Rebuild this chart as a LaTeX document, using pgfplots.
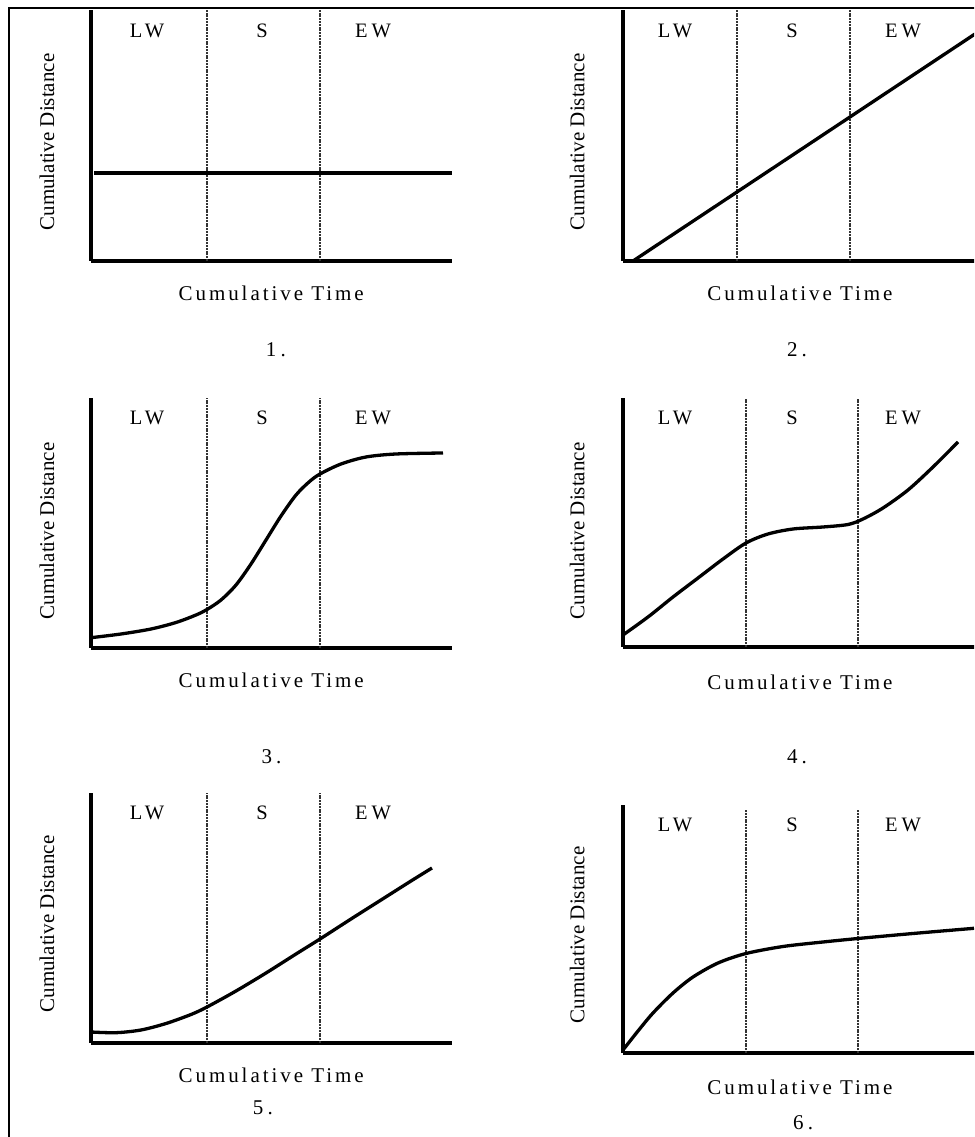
\documentclass[border=0pt]{standalone}
\usepackage{fontspec}
\setmainfont{Liberation Serif}
\newfontfamily\spaced[LetterSpace=14]{Liberation Serif}
\newfontfamily\wspaced[LetterSpace=20]{Liberation Serif}
\usepackage{pgfplots}
\pgfplotsset{compat=1.18}

\pgfplotsset{
  panel/.style={
    scale only axis, width=361pt,
    axis x line=bottom, axis y line=left,
    axis line style={-, line width=3.6pt, black},
    xtick=\empty, ytick=\empty,
    xmin=0, xmax=361, ymin=0,
    clip=false, anchor=south west,
    xlabel={Cumulative Time}, ylabel={Cumulative Distance},
    xlabel style={font=\fontsize{21}{24}\spaced, anchor=center},
    ylabel style={font=\fontsize{21}{24}\selectfont, anchor=center},
  },
}
\tikzset{
  curve/.style={line width=3.3pt, black, smooth, line join=round},
  zone/.style={line width=1.1pt, black!80, dash pattern=on 2pt off 0.8pt},
  zlab/.style={font=\fontsize{20.5}{22}\wspaced},
}

\begin{document}
\begin{tikzpicture}[x=1pt,y=1pt]
\useasboundingbox (0,0) rectangle (974,1137);
\clip (0,0) rectangle (974,1137);
\draw[line width=2.6pt] (9,-5) -- (9,1129) -- (980,1129);

% Panel 1
\begin{axis}[panel, at={(91,876)}, height=251pt, ymax=251,
  xlabel style={at={(axis description cs:0.499,-0.127)}},
  ylabel style={at={(axis description cs:-0.122,0.474)}}]
\addplot[zone] coordinates {(116,0) (116,251)};
\addplot[zone] coordinates {(229,0) (229,251)};
\addplot[line width=3.3pt, black] coordinates {(3,88) (361,88)};
\node[zlab] at (axis cs:56,230) {LW};
\node[zlab] at (axis cs:171,230) {S};
\node[zlab] at (axis cs:282,230) {EW};
\node[font=\fontsize{21}{24}\wspaced] at (axis description cs:0.512,-0.355) {1.};
\end{axis}

% Panel 2
\begin{axis}[panel, at={(623,876)}, height=251pt, ymax=251,
  xlabel style={at={(axis description cs:0.49,-0.127)}},
  ylabel style={at={(axis description cs:-0.127,0.474)}}]
\addplot[zone] coordinates {(114,0) (114,251)};
\addplot[zone] coordinates {(227,0) (227,251)};
\addplot[line width=3.3pt, black] coordinates {(10,0) (355,229)};
\node[zlab] at (axis cs:52,230) {LW};
\node[zlab] at (axis cs:169,230) {S};
\node[zlab] at (axis cs:280,230) {EW};
\node[font=\fontsize{21}{24}\wspaced] at (axis description cs:0.482,-0.355) {2.};
\end{axis}

% Panel 3
\begin{axis}[panel, at={(91,489)}, height=250pt, ymax=250,
  xlabel style={at={(axis description cs:0.499,-0.128)}},
  ylabel style={at={(axis description cs:-0.122,0.468)}}]
\addplot[zone] coordinates {(116,0) (116,250)};
\addplot[zone] coordinates {(229,0) (229,250)};
\addplot[curve] coordinates {(0,10.3) (30,14) (60,19) (85,25.5) (105,33) (116,38.5) (130,48) (145,63) (160,84) (175,108) (190,132) (205,153) (218,166) (229,174) (250,184) (275,191) (305,194) (352,195)};
\node[zlab] at (axis cs:56,230) {LW};
\node[zlab] at (axis cs:171,230) {S};
\node[zlab] at (axis cs:282,230) {EW};
\node[font=\fontsize{21}{24}\wspaced] at (axis description cs:0.5,-0.436) {3.};
\end{axis}

% Panel 4
\begin{axis}[panel, at={(623,490)}, height=249pt, ymax=249,
  xlabel style={at={(axis description cs:0.49,-0.141)}},
  ylabel style={at={(axis description cs:-0.127,0.466)}}]
\addplot[zone] coordinates {(123,0) (123,249)};
\addplot[zone] coordinates {(235,0) (235,249)};
\addplot[curve] coordinates {(0,12) (25,30) (50,50) (75,69) (100,88) (123,104) (145,113) (170,118) (200,120) (225,122.5) (240,128) (260,139) (285,157) (310,180) (335,205)};
\node[zlab] at (axis cs:52,229) {LW};
\node[zlab] at (axis cs:169,229) {S};
\node[zlab] at (axis cs:280,229) {EW};
\node[font=\fontsize{21}{24}\wspaced] at (axis description cs:0.482,-0.442) {4.};
\end{axis}

% Panel 5
\begin{axis}[panel, at={(91,94)}, height=250pt, ymax=250,
  xlabel style={at={(axis description cs:0.499,-0.128)}},
  ylabel style={at={(axis description cs:-0.122,0.476)}}]
\addplot[zone] coordinates {(116,0) (116,250)};
\addplot[zone] coordinates {(229,0) (229,250)};
\addplot[curve] coordinates {(0,11) (25,10.3) (50,13) (75,19.5) (100,28.5) (116,36) (145,52) (175,70) (205,89) (229,104) (260,124) (290,143) (320,162) (341,175)};
\node[zlab] at (axis cs:56,230) {LW};
\node[zlab] at (axis cs:171,230) {S};
\node[zlab] at (axis cs:282,230) {EW};
\node[font=\fontsize{21}{24}\wspaced] at (axis description cs:0.476,-0.26) {5.};
\end{axis}

% Panel 6
\begin{axis}[panel, at={(623,84)}, height=248pt, ymax=248,
  xlabel style={at={(axis description cs:0.49,-0.137)}},
  ylabel style={at={(axis description cs:-0.127,0.476)}}]
\addplot[zone] coordinates {(123,0) (123,243)};
\addplot[zone] coordinates {(235,0) (235,243)};
\addplot[curve] coordinates {(0,3) (15,22) (30,40) (50,60) (70,76) (95,90) (123,99.5) (160,106.5) (200,111) (235,114.5) (290,119.5) (351,124.7)};
\node[zlab] at (axis cs:52,228) {LW};
\node[zlab] at (axis cs:169,228) {S};
\node[zlab] at (axis cs:280,228) {EW};
\node[font=\fontsize{21}{24}\wspaced] at (axis description cs:0.499,-0.282) {6.};
\end{axis}
\end{tikzpicture}
\end{document}
